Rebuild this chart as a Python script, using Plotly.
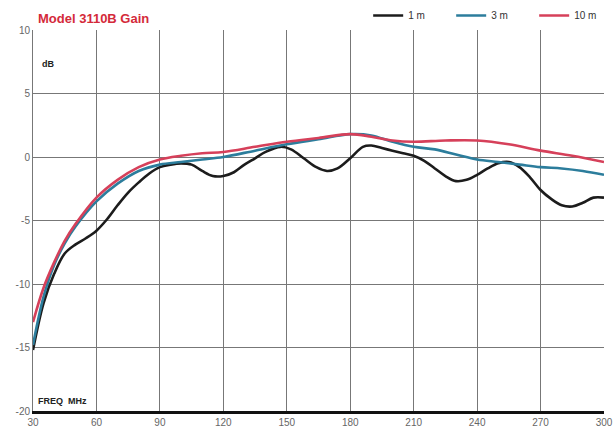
import plotly.graph_objects as go

# ---- data ----
freq_1m = [30, 35, 40, 45, 50, 55, 60, 65, 70, 75, 80, 85, 90, 95, 100, 105, 110, 115, 120,
           125, 130, 135, 140, 147, 152, 158, 164, 169, 174, 180, 186, 190, 195, 200, 205,
           210, 215, 220, 225, 230, 235, 240, 245, 250, 255, 260, 265, 270, 275, 280, 285,
           290, 295, 300]
gain_1m = [-15.2, -11.5, -9.2, -7.6, -6.9, -6.4, -5.8, -4.9, -3.8, -2.8, -2.0, -1.3, -0.8,
           -0.6, -0.5, -0.6, -1.1, -1.5, -1.5, -1.2, -0.6, -0.1, 0.4, 0.8, 0.6, -0.1, -0.8,
           -1.1, -0.9, -0.1, 0.8, 0.9, 0.7, 0.5, 0.3, 0.1, -0.3, -0.9, -1.5, -1.9, -1.8, -1.4,
           -0.9, -0.5, -0.4, -0.8, -1.6, -2.6, -3.3, -3.8, -3.9, -3.6, -3.2, -3.2]

freq_3m = [30, 35, 40, 45, 50, 60, 70, 80, 90, 100, 110, 120, 135, 150, 165, 180, 190, 200,
           210, 220, 230, 240, 250, 260, 270, 280, 290, 300]
gain_3m = [-14.8, -11.0, -8.5, -6.8, -5.5, -3.5, -2.1, -1.1, -0.6, -0.4, -0.2, 0.0, 0.5, 1.0,
           1.4, 1.8, 1.7, 1.2, 0.8, 0.6, 0.2, -0.2, -0.4, -0.6, -0.8, -0.9, -1.1, -1.4]

freq_10m = [30, 35, 40, 45, 50, 60, 70, 80, 90, 100, 110, 120, 135, 150, 165, 180, 190, 200,
            210, 225, 240, 255, 270, 285, 300]
gain_10m = [-13.0, -10.3, -8.3, -6.6, -5.3, -3.2, -1.8, -0.8, -0.2, 0.1, 0.3, 0.4, 0.8, 1.2,
            1.5, 1.8, 1.6, 1.3, 1.2, 1.3, 1.3, 1.0, 0.5, 0.1, -0.4]

x_ticks = [30, 60, 90, 120, 150, 180, 210, 240, 270, 300]
y_ticks = [-20, -15, -10, -5, 0, 5, 10]

series = [
    ("1 m", freq_1m, gain_1m, "#1c1c1c"),
    ("3 m", freq_3m, gain_3m, "#2c7d9c"),
    ("10 m", freq_10m, gain_10m, "#d6405a"),
]

FONT = "Liberation Sans Narrow, Liberation Sans, Arial, sans-serif"

fig = go.Figure()
for name, xs, ys, col in series:
    fig.add_trace(go.Scatter(x=xs, y=ys, name=name, mode="lines",
                             line=dict(color=col, width=2.6, shape="spline", smoothing=1.0)))

fig.update_layout(
    width=614, height=436,
    margin=dict(l=33, r=10, t=30, b=25, autoexpand=False),
    paper_bgcolor="white", plot_bgcolor="white",
    font=dict(family=FONT, size=10, color="#555"),
    showlegend=True,
    legend=dict(orientation="h", x=0.587, xanchor="left", y=1.0, yanchor="bottom",
                font=dict(family=FONT, size=10, color="#333"),
                bgcolor="rgba(0,0,0,0)", entrywidth=38, tracegroupgap=0),
    xaxis=dict(range=[30, 300], tickvals=x_ticks, ticktext=[str(v) for v in x_ticks],
               showgrid=True, gridcolor="#777", gridwidth=1, zeroline=False,
               showline=True, linecolor="#111", linewidth=3, ticks="",
               ticklabeloverflow="allow",
               tickfont=dict(family=FONT, size=10, color="#666")),
    yaxis=dict(range=[-20, 10], tickvals=y_ticks, ticktext=[str(v) for v in y_ticks],
               showgrid=True, gridcolor="#777", gridwidth=1, zeroline=False,
               showline=True, linecolor="#777", linewidth=1, ticks="",
               ticklabeloverflow="allow",
               tickfont=dict(family=FONT, size=10, color="#666")),
    annotations=[
        dict(text="<b>Model 3110B Gain</b>", xref="paper", yref="paper", x=0.006, y=1.0,
             xanchor="left", yanchor="bottom", yshift=2, showarrow=False,
             font=dict(family=FONT, size=13, color="#d42a3a")),
        dict(text="<b>dB</b>", xref="paper", yref="paper", x=0.012, y=0.91,
             xanchor="left", yanchor="middle", showarrow=False,
             font=dict(family=FONT, size=9, color="#222")),
        dict(text="<b>FREQ  MHz</b>", xref="paper", yref="paper", x=0.006, y=0.0,
             xanchor="left", yanchor="bottom", yshift=3, showarrow=False,
             font=dict(family=FONT, size=9, color="#222")),
    ],
)

fig.write_html("out.html", config={"displayModeBar": False},
               post_script="document.body.style.margin='0';")
